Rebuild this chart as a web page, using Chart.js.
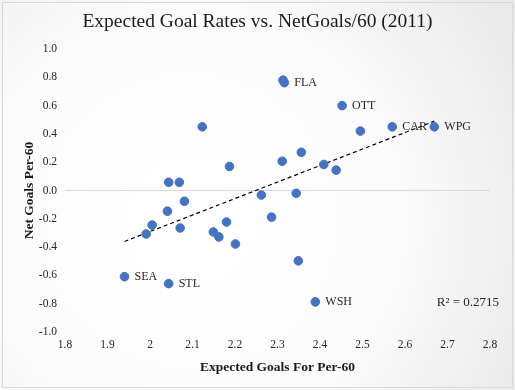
<!DOCTYPE html>
<html>
<head>
<meta charset="utf-8">
<script src="https://cdn.jsdelivr.net/npm/chart.js@4.4.1/dist/chart.umd.min.js"></script>
<style>
  html, body { margin: 0; padding: 0; background: #fff; }
  #wrap { width: 515px; height: 390px; position: relative; }
</style>
</head>
<body>
<div id="wrap"><canvas id="scatter"></canvas></div>
<script>
// expected goals for per 60 vs net goals per 60, one point per team
var xgFor = [2.313, 2.316, 2.452, 2.570, 2.669, 2.495, 2.356, 2.311, 2.409, 2.438,
             2.262, 2.344, 2.123, 2.187, 2.044, 2.069, 2.081, 2.041, 2.005, 1.991,
             2.071, 2.149, 2.162, 2.180, 2.201, 1.940, 2.044, 2.286, 2.349, 2.389];
var netGoals = [0.780, 0.762, 0.600, 0.450, 0.450, 0.420, 0.270, 0.207, 0.184, 0.144,
                -0.032, -0.020, 0.450, 0.170, 0.058, 0.058, -0.076, -0.146, -0.244, -0.307,
                -0.265, -0.293, -0.328, -0.223, -0.378, -0.609, -0.658, -0.188, -0.497, -0.787];
var teamLabels = ['', 'FLA', 'OTT', 'CAR', 'WPG', '', '', '', '', '',
                  '', '', '', '', '', '', '', '', '', '',
                  '', '', '', '', '', 'SEA', 'STL', '', '', 'WSH'];
// linear trendline ends as drawn
var trendX = [1.940, 2.669];
var trendY = [-0.360, 0.490];
var xTicks = [1.8, 1.9, 2, 2.1, 2.2, 2.3, 2.4, 2.5, 2.6, 2.7, 2.8];
var chartTitle = 'Expected Goal Rates vs. NetGoals/60 (2011)';
var rSquared = 'R\u00b2 = 0.2715';

var serif = "'Liberation Serif', 'DejaVu Serif', serif";

var points = xgFor.map(function (x, i) { return { x: x, y: netGoals[i] }; });
var trend = trendX.map(function (x, i) { return { x: x, y: trendY[i] }; });

var bgPlugin = {
    id: 'bg',
    beforeDraw: function (chart) {
        var c = chart.ctx;
        var g = c.createRadialGradient(190, 220, 10, 190, 220, 380);
        g.addColorStop(0, '#ffffff');
        g.addColorStop(0.55, '#fbfbfb');
        g.addColorStop(1, '#e9e9e9');
        c.save();
        c.fillStyle = g;
        c.fillRect(0, 0, chart.width, chart.height);
        c.strokeStyle = '#d9d9d9';
        c.lineWidth = 1;
        c.strokeRect(2.5, 2.5, chart.width - 5, chart.height - 5);
        // title, centred on the whole frame
        c.font = '19.5px ' + serif;
        c.fillStyle = '#1a1a1a';
        c.textAlign = 'center';
        c.textBaseline = 'middle';
        c.fillText(chartTitle, chart.width / 2, 22);
        c.restore();
    }
};

var labelPlugin = {
    id: 'teamLabels',
    afterDatasetsDraw: function (chart) {
        var c = chart.ctx;
        var xs = chart.scales.x, ys = chart.scales.y;
        c.save();
        c.font = '12px ' + serif;
        c.fillStyle = '#262626';
        c.textBaseline = 'middle';
        c.textAlign = 'left';
        teamLabels.forEach(function (t, i) {
            if (!t) return;
            c.fillText(t, xs.getPixelForValue(xgFor[i]) + 10, ys.getPixelForValue(netGoals[i]));
        });
        c.font = '13px ' + serif;
        c.textAlign = 'right';
        c.fillText(rSquared, chart.chartArea.right + 9, ys.getPixelForValue(-0.79));
        c.restore();
    }
};

new Chart(document.getElementById('scatter'), {
    type: 'scatter',
    data: {
        datasets: [{
            label: 'Teams',
            data: points,
            backgroundColor: '#4472c4',
            borderColor: '#4472c4',
            pointRadius: 4.3,
            pointHoverRadius: 4.3
        }, {
            label: 'Linear',
            type: 'line',
            data: trend,
            borderColor: '#000000',
            borderWidth: 1.2,
            borderDash: [4, 3],
            pointRadius: 0,
            fill: false
        }]
    },
    options: {
        responsive: true,
        maintainAspectRatio: false,
        animation: false,
        layout: { padding: { top: 49, right: 25, left: 0, bottom: 0 } },
        plugins: {
            legend: { display: false },
            tooltip: { enabled: false },
            title: { display: false }
        },
        scales: {
            x: {
                type: 'linear',
                min: 1.8,
                max: 2.8,
                afterBuildTicks: function (s) {
                    s.ticks = xTicks.map(function (v) { return { value: v }; });
                },
                afterFit: function (s) { s.height = 58; },
                grid: { display: false },
                border: { display: false },
                ticks: {
                    color: '#262626',
                    font: { family: serif, size: 11.5 },
                    padding: -2,
                    callback: function (v) { return String(Math.round(v * 10) / 10); }
                },
                title: {
                    display: true,
                    text: 'Expected Goals For Per-60',
                    color: '#1a1a1a',
                    font: { family: serif, size: 13.5, weight: 'bold' },
                    padding: { top: 0, bottom: 14 }
                }
            },
            y: {
                min: -1,
                max: 1,
                afterFit: function (s) { s.width = 65; },
                grid: {
                    drawTicks: false,
                    color: function (ctx) { return ctx.tick && ctx.tick.value === 0 ? '#d9d9d9' : 'rgba(0,0,0,0)'; }
                },
                border: { display: false },
                ticks: {
                    stepSize: 0.2,
                    color: '#262626',
                    font: { family: serif, size: 11.5 },
                    padding: 8,
                    callback: function (v) { return (Math.round(v * 10) / 10).toFixed(1); }
                },
                title: {
                    display: true,
                    text: 'Net Goals Per-60',
                    color: '#1a1a1a',
                    font: { family: serif, size: 13.5, weight: 'bold' },
                    padding: { top: 21, bottom: 0 }
                }
            }
        }
    },
    plugins: [bgPlugin, labelPlugin]
});
</script>
</body>
</html>
